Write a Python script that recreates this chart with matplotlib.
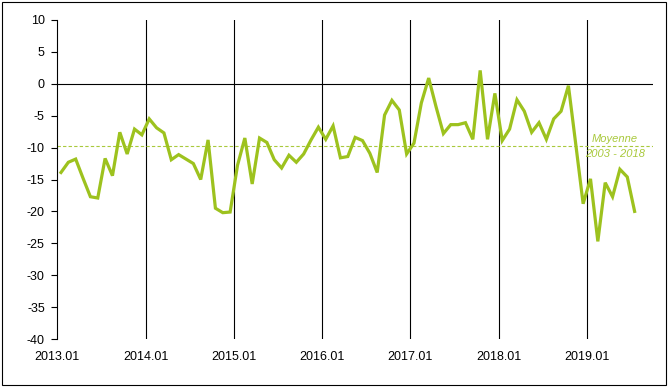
import matplotlib
matplotlib.use("Agg")
import matplotlib.pyplot as plt
from matplotlib.patches import Rectangle

plt.rcParams['font.family'] = ['Liberation Sans', 'DejaVu Sans']

# Monthly values, 2013.01 .. 2019.07
values = [
    -13.9, -12.3, -11.8, -14.8, -17.7, -17.9, -11.7, -14.4, -7.6, -11.0, -7.1, -8.0,   # 2013
    -5.5, -6.9, -7.7, -11.9, -11.1, -11.8, -12.5, -15.0, -8.8, -19.5, -20.2, -20.1,    # 2014
    -12.8, -8.5, -15.7, -8.5, -9.2, -11.9, -13.2, -11.2, -12.3, -11.0, -8.8, -6.8,     # 2015
    -8.7, -6.6, -11.6, -11.4, -8.4, -8.9, -10.9, -13.9, -4.9, -2.6, -4.1, -11.0,       # 2016
    -9.3, -3.0, 0.9, -3.6, -7.8, -6.4, -6.4, -6.1, -8.7, 2.1, -8.7, -1.5,              # 2017
    -8.9, -7.1, -2.5, -4.3, -7.6, -6.1, -8.7, -5.5, -4.3, -0.3, -9.5, -18.8,           # 2018
    -14.9, -24.7, -15.5, -17.7, -13.4, -14.6, -20.0,                                   # 2019
]
year_labels = ["2013.01", "2014.01", "2015.01", "2016.01", "2017.01", "2018.01", "2019.01"]
average_value = -9.7
average_label = ["Moyenne", "2003 - 2018"]
y_ticks = list(range(-40, 11, 5))

line_color = '#9DC21E'
avg_color = '#A9C93C'

fig = plt.figure(figsize=(6.7, 3.9), dpi=100)
ax = fig.add_axes([57.3 / 670, 1 - 339 / 390, (653 - 57.3) / 670, (339 - 20) / 390])

x = [i + 0.5 for i in range(len(values))]
year_pos = [12 * k for k in range(len(year_labels))]

for p in year_pos[1:]:
    ax.axvline(p, color='black', lw=0.8, zorder=1)
ax.axhline(0, color='black', lw=0.8, zorder=1)
ax.axhline(average_value, color=avg_color, lw=0.8, ls=(0, (3, 2)), zorder=2)
ax.plot(x, values, color=line_color, lw=2.3, zorder=3, solid_joinstyle='miter')

ax.text(75.8, -8.7, average_label[0], color=avg_color, fontsize=8, style='italic',
        ha='center', va='center')
ax.text(75.8, -11.0, average_label[1], color=avg_color, fontsize=8, style='italic',
        ha='center', va='center')

ax.set_xlim(0, 81)
ax.set_ylim(-40, 10)
ax.set_yticks(y_ticks)
ax.set_yticklabels([str(v) for v in y_ticks], fontsize=9)
ax.set_xticks(year_pos)
ax.set_xticklabels(year_labels, fontsize=9)
ax.tick_params(axis='x', length=0, pad=9)
ax.tick_params(axis='y', length=4, width=0.8, pad=5, direction='out')
for s in ['top', 'right', 'bottom']:
    ax.spines[s].set_visible(False)
ax.spines['left'].set_linewidth(0.8)
ax.patch.set_visible(False)

fig.patches.append(Rectangle((2 / 670, 1 - 385 / 390), 664 / 670, 383 / 390,
                             transform=fig.transFigure, fill=False,
                             edgecolor='black', lw=0.8))

fig.savefig('out.png', dpi=100)
